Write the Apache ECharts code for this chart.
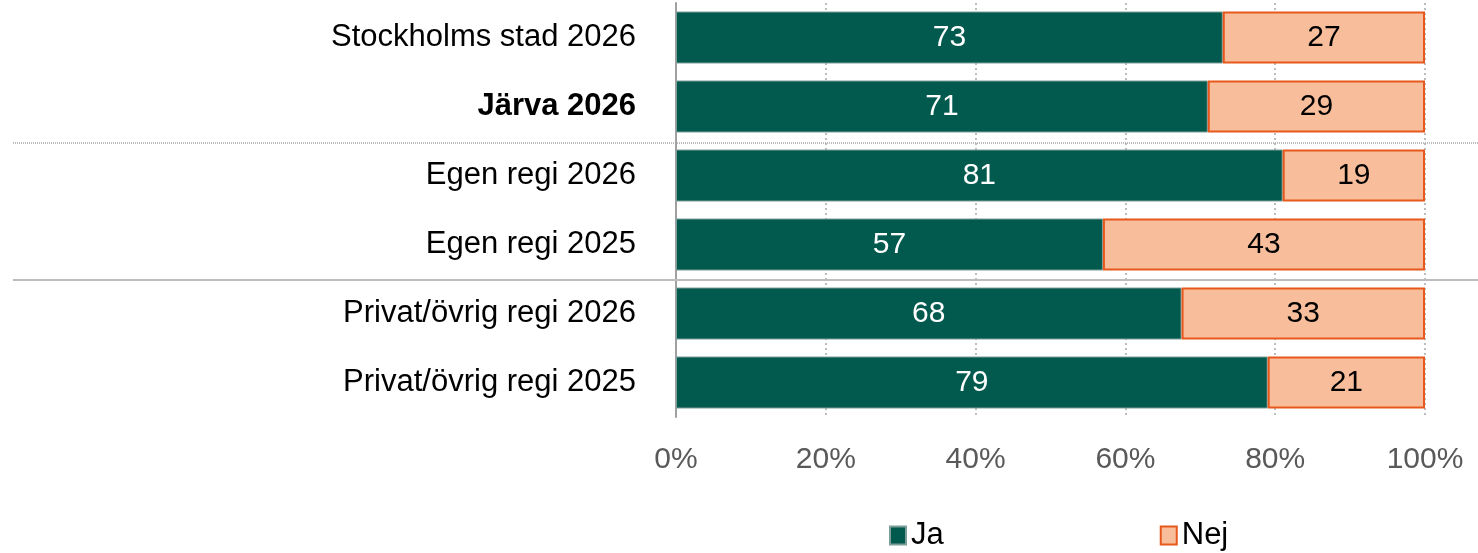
<!DOCTYPE html>
<html>
<head>
<meta charset="utf-8">
<script src="https://cdn.jsdelivr.net/npm/echarts@6/dist/echarts.min.js"></script>
<style>
  html, body { margin: 0; padding: 0; background: #fff; }
  #chart { width: 1478px; height: 553px; }
</style>
</head>
<body>
<div id="chart"></div>
<script>
const categories = ['Stockholms stad 2026', 'Järva 2026', 'Egen regi 2026', 'Egen regi 2025', 'Privat/övrig regi 2026', 'Privat/övrig regi 2025']
const jaValues = [73, 71, 81, 57, 67.5, 79]
const nejValues = [27, 29, 19, 43, 32.5, 21]
const xTicks = [0, 20, 40, 60, 80, 100]

const font = 'Liberation Sans, Arial, sans-serif'
const chart = echarts.init(document.getElementById('chart'))

chart.setOption({
  animation: false,
  textStyle: { fontFamily: font },
  grid: { left: 676, right: 53, top: 3, height: 414 },
  legend: {
    left: 884,
    top: 515,
    icon: 'rect',
    itemWidth: 16,
    itemHeight: 18,
    itemGap: 216,
    textStyle: { fontSize: 31, color: '#000', fontFamily: font },
    data: ['Ja', 'Nej']
  },
  xAxis: {
    type: 'value',
    min: xTicks[0],
    max: xTicks[xTicks.length - 1],
    interval: 20,
    axisLine: { show: false },
    axisTick: { show: false },
    axisLabel: {
      formatter: '{value}%',
      fontSize: 30,
      color: '#595959',
      margin: 28
    },
    splitLine: {
      show: true,
      lineStyle: { color: '#bdbdbd', width: 2, type: [2, 3] }
    }
  },
  yAxis: {
    type: 'category',
    data: categories,
    inverse: true,
    axisLine: { show: true, lineStyle: { color: '#a0a0a0', width: 2 } },
    axisTick: { show: false },
    axisLabel: {
      fontSize: 31,
      color: '#000',
      margin: 40,
      formatter: function (v) {
        return v === 'Järva 2026' ? '{b|' + v + '}' : v
      },
      rich: {
        b: { fontWeight: 'bold', fontSize: 31, color: '#000', fontFamily: font }
      }
    }
  },
  series: [{
    name: 'Ja',
    type: 'bar',
    stack: 'total',
    data: jaValues,
    barWidth: 52,
    itemStyle: { color: '#025a4f', borderColor: '#7d9e98', borderWidth: 1 },
    label: {
      show: true,
      position: 'inside',
      color: '#fff',
      fontSize: 30,
      formatter: p => Math.round(p.value)
    }
  }, {
    name: 'Nej',
    type: 'bar',
    stack: 'total',
    data: nejValues,
    barWidth: 52,
    itemStyle: { color: '#f8be9c', borderColor: '#e8581c', borderWidth: 2 },
    label: {
      show: true,
      position: 'inside',
      color: '#000',
      fontSize: 30,
      formatter: p => Math.round(p.value)
    }
  }]
})

// separator lines between groups, placed halfway between category bands
const yBetween = (a, b) => (chart.convertToPixel({ yAxisIndex: 0 }, categories[a]) + chart.convertToPixel({ yAxisIndex: 0 }, categories[b])) / 2
const y1 = yBetween(1, 2) + 2
const y2 = yBetween(3, 4) + 1
chart.setOption({
  graphic: [{
    type: 'line',
    shape: { x1: 13, y1: y1, x2: 1478, y2: y1 },
    style: { stroke: '#a6a6a6', lineWidth: 1.5, lineDash: [1, 1] },
    z: 100
  }, {
    type: 'line',
    shape: { x1: 13, y1: y2, x2: 1478, y2: y2 },
    style: { stroke: '#bdbdbd', lineWidth: 2 },
    z: 100
  }]
})
</script>
</body>
</html>
